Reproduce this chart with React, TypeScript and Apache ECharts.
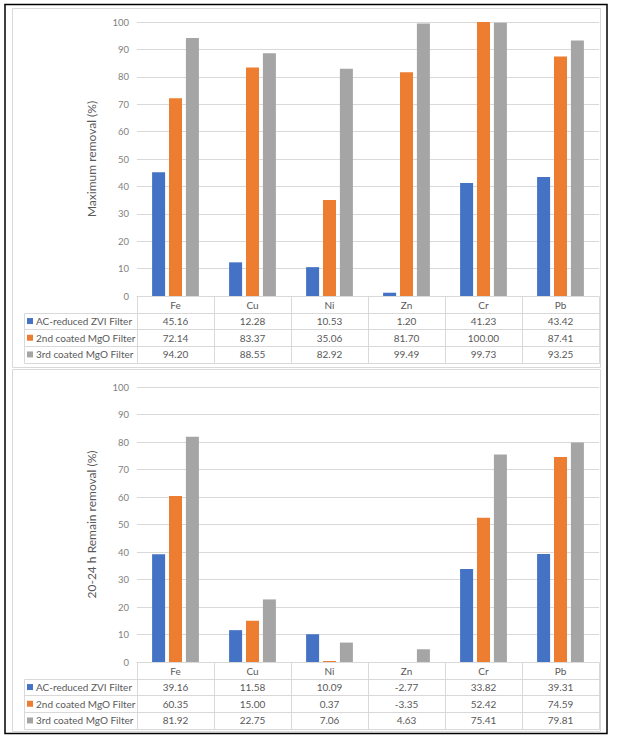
import React, { useEffect, useRef } from "react";
import * as echarts from "echarts";

const categories = ["Fe", "Cu", "Ni", "Zn", "Cr", "Pb"];
const seriesNames = ["AC-reduced ZVI Filter", "2nd coated MgO Filter", "3rd coated MgO Filter"];
const colors = ["#4472C4", "#ED7D31", "#A5A5A5"];

const maxZvi = [45.16, 12.28, 10.53, 1.2, 41.23, 43.42];
const maxMgo2 = [72.14, 83.37, 35.06, 81.7, 100.0, 87.41];
const maxMgo3 = [94.2, 88.55, 82.92, 99.49, 99.73, 93.25];

const remZvi = [39.16, 11.58, 10.09, -2.77, 33.82, 39.31];
const remMgo2 = [60.35, 15.0, 0.37, -3.35, 52.42, 74.59];
const remMgo3 = [81.92, 22.75, 7.06, 4.63, 75.41, 79.81];

const topTitle = "Maximum removal (%)";
const bottomTitle = "20-24 h Remain removal (%)";

const W = 617;
const H = 744;
const PLOT_L = 137;
const PLOT_R = 599;
const TOP_GRID_TOP = 22;
const TOP_AXIS_Y = 296;
const BOT_GRID_TOP = 387;
const BOT_AXIS_Y = 662;
const ROW_H = 16.7;
const TABLE_L = 24;
const FONT = "Lato, 'Open Sans', sans-serif";
const GRID_C = "#d9d9d9";
const TEXT_C = "#595959";

function buildTable(axisY: number, rows: number[][]) {
  const els: any[] = [];
  const colW = (PLOT_R - PLOT_L) / categories.length;
  const px = (v: number) => Math.round(v) + 0.5;
  const headerBottom = axisY + ROW_H;
  const tableBottom = headerBottom + ROW_H * rows.length;
  const line = (x1: number, y1: number, x2: number, y2: number) => ({
    type: "line",
    silent: true,
    shape: { x1, y1, x2, y2 },
    style: { stroke: GRID_C, lineWidth: 1 },
  });
  // vertical lines over header + rows
  for (let i = 0; i <= categories.length; i++) {
    const x = px(PLOT_L + colW * i);
    els.push(line(x, px(axisY), x, px(tableBottom)));
  }
  els.push(line(px(TABLE_L), px(headerBottom), px(TABLE_L), px(tableBottom)));
  for (let r = 0; r <= rows.length; r++) {
    const y = px(headerBottom + ROW_H * r);
    els.push(line(px(TABLE_L), y, px(PLOT_R), y));
  }
  rows.forEach((vals, r) => {
    const cy = headerBottom + ROW_H * r + ROW_H / 2;
    els.push({
      type: "rect",
      silent: true,
      shape: { x: TABLE_L + 3, y: cy - 3, width: 6, height: 6 },
      style: { fill: colors[r] },
    });
    els.push({
      type: "text",
      silent: true,
      x: TABLE_L + 12,
      y: cy,
      style: {
        text: seriesNames[r],
        fill: TEXT_C,
        fontSize: 10,
        fontFamily: FONT,
        align: "left",
        verticalAlign: "middle",
      },
    });
    vals.forEach((v, i) => {
      els.push({
        type: "text",
        silent: true,
        x: PLOT_L + colW * (i + 0.5),
        y: cy,
        style: {
          text: v.toFixed(2),
          fill: TEXT_C,
          fontSize: 10,
          fontFamily: FONT,
          align: "center",
          verticalAlign: "middle",
        },
      });
    });
  });
  return els;
}

export default function App() {
  const ref = useRef<HTMLDivElement>(null);
  useEffect(() => {
    if (!ref.current) return;
    const chart = echarts.init(ref.current, undefined, { renderer: "svg" });
    const yAxisBase = (name: string, gridIndex: number) => ({
      type: "value",
      gridIndex,
      min: 0,
      max: 100,
      interval: 10,
      name,
      nameLocation: "middle",
      nameGap: 40,
      nameRotate: 90,
      nameTextStyle: { color: TEXT_C, fontSize: 12, fontFamily: FONT },
      axisLine: { show: false },
      axisTick: { show: false },
      axisLabel: { color: "#7f7f7f", fontSize: 9.5, fontFamily: FONT, margin: 8 },
      splitLine: { lineStyle: { color: GRID_C, width: 1 } },
    });
    const xAxisBase = (gridIndex: number) => ({
      type: "category",
      gridIndex,
      data: categories,
      axisLine: { lineStyle: { color: GRID_C } },
      axisTick: { show: false },
      axisLabel: {
        color: TEXT_C,
        fontSize: 10,
        fontFamily: FONT,
        margin: 4,
      },
      splitLine: { show: false },
    });
    const mkSeries = (data: number[], idx: number, axis: number) => ({
      type: "bar",
      name: seriesNames[idx],
      xAxisIndex: axis,
      yAxisIndex: axis,
      data,
      barWidth: 13,
      barGap: "30%",
      clip: true,
      itemStyle: { color: colors[idx] },
    });
    chart.setOption({
      animation: false,
      backgroundColor: "#ffffff",
      grid: [
        { left: PLOT_L, right: W - PLOT_R, top: TOP_GRID_TOP, height: TOP_AXIS_Y - TOP_GRID_TOP },
        { left: PLOT_L, right: W - PLOT_R, top: BOT_GRID_TOP, height: BOT_AXIS_Y - BOT_GRID_TOP },
      ],
      xAxis: [xAxisBase(0), xAxisBase(1)],
      yAxis: [yAxisBase(topTitle, 0), yAxisBase(bottomTitle, 1)],
      series: [
        mkSeries(maxZvi, 0, 0),
        mkSeries(maxMgo2, 1, 0),
        mkSeries(maxMgo3, 2, 0),
        mkSeries(remZvi, 0, 1),
        mkSeries(remMgo2, 1, 1),
        mkSeries(remMgo3, 2, 1),
      ],
      graphic: [
        {
          type: "rect",
          silent: true,
          z: -10,
          shape: { x: 12.5, y: 8.5, width: 588, height: 359 },
          style: { fill: "none", stroke: GRID_C, lineWidth: 1 },
        },
        {
          type: "rect",
          silent: true,
          z: -10,
          shape: { x: 12.5, y: 369.5, width: 588, height: 362 },
          style: { fill: "none", stroke: GRID_C, lineWidth: 1 },
        },
        {
          type: "rect",
          silent: true,
          shape: { x: 5, y: 4.5, width: 602, height: 729 },
          style: { fill: "none", stroke: "#000000", lineWidth: 1.5 },
        },
        ...buildTable(TOP_AXIS_Y, [maxZvi, maxMgo2, maxMgo3]),
        ...buildTable(BOT_AXIS_Y, [remZvi, remMgo2, remMgo3]),
      ],
    });
    return () => chart.dispose();
  }, []);
  return (
    <div
      ref={ref}
      style={{ position: "fixed", left: 0, top: 0, width: W, height: H, background: "#fff" }}
    />
  );
}
